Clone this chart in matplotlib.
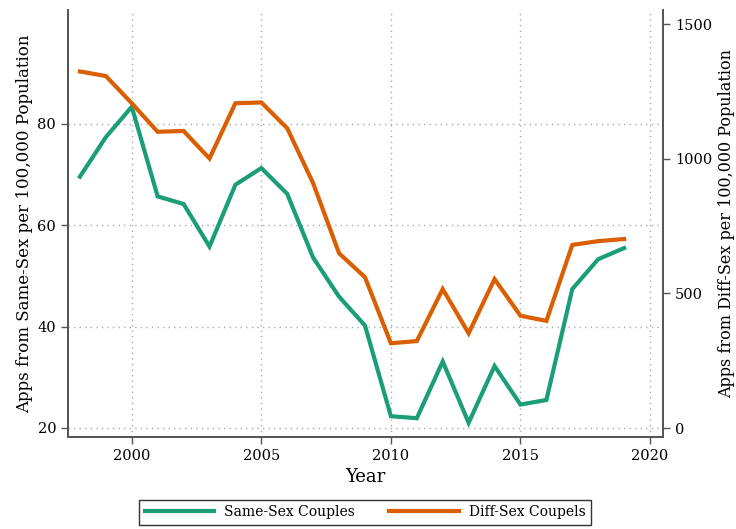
import matplotlib
matplotlib.use("Agg")
import matplotlib.pyplot as plt

# data
years = list(range(1998, 2020))
same_sex = [69.6, 77.4, 83.4, 65.7, 64.2, 55.8, 68.0, 71.3, 66.2, 53.6, 45.9,
            40.2, 22.3, 21.9, 33.1, 21.0, 32.2, 24.6, 25.5, 47.4, 53.3, 55.5]
diff_sex = [1324, 1307, 1206, 1100, 1103, 1001, 1206, 1209, 1113, 909, 649,
            560, 315, 323, 516, 352, 553, 417, 398, 680, 694, 702]
x_ticks = [2000, 2005, 2010, 2015, 2020]
left_ticks = [20, 40, 60, 80]
right_ticks = [0, 500, 1000, 1500]

green = "#1b9e77"
orange = "#d95f02"
axis_col = "#555555"

plt.rcParams["font.family"] = "DejaVu Serif"

fig = plt.figure(figsize=(7.36, 5.29), dpi=100)
ax1 = fig.add_axes([0.0924, 0.174, 0.8084, 0.807])
ax2 = ax1.twinx()

# lines
l1, = ax1.plot(years, same_sex, color=green, lw=3, solid_joinstyle="miter",
               label="Same-Sex Couples", zorder=3)
l2, = ax2.plot(years, diff_sex, color=orange, lw=3, solid_joinstyle="miter",
               label="Diff-Sex Coupels", zorder=3)

# axes limits
ax1.set_xlim(1997.54, 2020.5)
ax1.set_ylim(18.2, 102.5)
ax2.set_ylim(-33, 1552)

ax1.set_xticks(x_ticks)
ax1.set_yticks(left_ticks)
ax2.set_yticks(right_ticks)

# dotted grid from left axis only
ax1.grid(True, linestyle=(0, (1, 3)), color="#aaaaaa", lw=1)
ax1.set_axisbelow(True)

for ax in (ax1, ax2):
    ax.spines["top"].set_visible(False)
    for s in ("left", "right", "bottom"):
        ax.spines[s].set_color(axis_col)
        ax.spines[s].set_linewidth(1.3)
    ax.tick_params(colors="black", labelsize=10.5, length=5, width=1,
                   color=axis_col)

ax1.set_xlabel("Year", fontsize=13, labelpad=4)
ax1.set_ylabel("Apps from Same-Sex per 100,000 Population", fontsize=12,
               labelpad=3)
ax2.set_ylabel("Apps from Diff-Sex per 100,000 Population", fontsize=11.5,
               labelpad=4)

# legend below plot
leg = fig.legend(handles=[l1, l2], loc="center", bbox_to_anchor=(0.496, 0.032),
                 ncol=2, fontsize=10, frameon=True, fancybox=False,
                 edgecolor="black", handlelength=5, handletextpad=0.7,
                 columnspacing=2.5, borderpad=0.4, borderaxespad=0)
leg.get_frame().set_linewidth(1)

fig.savefig("out.png", dpi=100)
